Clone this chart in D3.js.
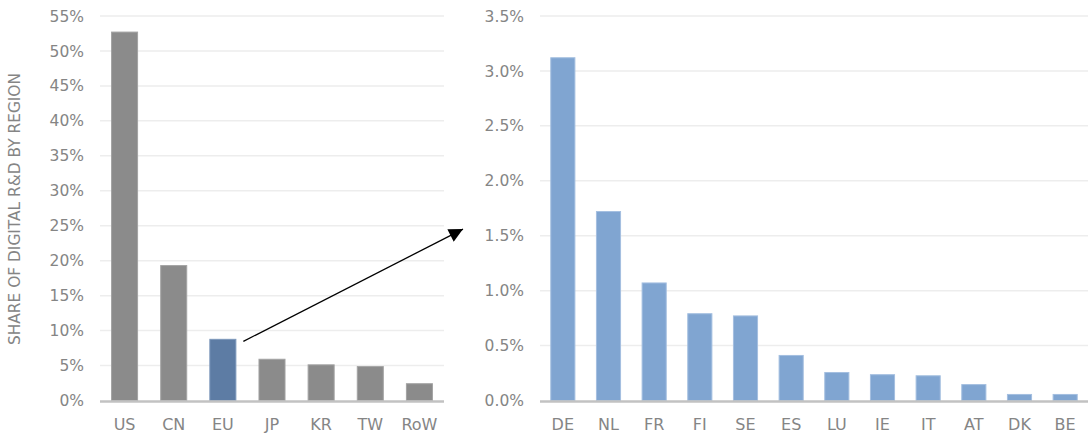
<!DOCTYPE html>
<html>
<head>
<meta charset="utf-8">
<script src="https://cdn.jsdelivr.net/npm/d3@7"></script>
<style>
  body { margin: 0; background: #fff; }
  text { font-family: "DejaVu Sans", sans-serif; fill: #858585; }
</style>
</head>
<body>
<svg id="chart" width="1088" height="434"></svg>
<script>
const regions = ['US', 'CN', 'EU', 'JP', 'KR', 'TW', 'RoW']
const regionShare = [52.7, 19.3, 8.75, 5.9, 5.1, 4.85, 2.4]
const regionTicks = [0, 5, 10, 15, 20, 25, 30, 35, 40, 45, 50, 55]

const countries = ['DE', 'NL', 'FR', 'FI', 'SE', 'ES', 'LU', 'IE', 'IT', 'AT', 'DK', 'BE']
const countryShare = [3.12, 1.72, 1.07, 0.79, 0.77, 0.41, 0.255, 0.235, 0.225, 0.145, 0.055, 0.055]
const countryTicks = [0, 0.5, 1.0, 1.5, 2.0, 2.5, 3.0, 3.5]

const svg = d3.select('#chart')
const plotTop = 16, plotBottom = 400.5

// arrow head
svg.append('defs').append('marker')
  .attr('id', 'head')
  .attr('viewBox', '0 0 10 10')
  .attr('refX', 10).attr('refY', 5)
  .attr('markerWidth', 15).attr('markerHeight', 14)
  .attr('markerUnits', 'userSpaceOnUse')
  .attr('orient', 'auto')
  .append('path')
  .attr('d', 'M0,0 L10,5 L0,10 Z')
  .attr('fill', '#000')

const left = drawPanel({
  cats: regions, vals: regionShare, ticks: regionTicks,
  x0: 100, x1: 444, max: 55, fmt: d => d + '%',
  color: (d) => d === 'EU' ? '#5d7ca4' : '#8b8b8b',
  stroke: (d) => d === 'EU' ? '#7d98bb' : '#a3a3a3'
})

const right = drawPanel({
  cats: countries, vals: countryShare, ticks: countryTicks,
  x0: 540, x1: 1088, max: 3.5, fmt: d => d.toFixed(1) + '%',
  color: () => '#80a5d1',
  stroke: () => '#a4bfe0'
})

// y title
svg.append('text')
  .attr('transform', `translate(20,209) rotate(-90)`)
  .attr('text-anchor', 'middle')
  .attr('textLength', 272)
  .attr('lengthAdjust', 'spacingAndGlyphs')
  .style('font-size', '16.5px')
  .text('SHARE OF DIGITAL R&D BY REGION')

// arrow from EU bar to the right panel
const euX = left.x('EU') + left.x.bandwidth() + 7
const euY = left.y(regionShare[regions.indexOf('EU')]) + 2
svg.append('line')
  .attr('x1', euX).attr('y1', euY)
  .attr('x2', right.x.range()[0] - 77).attr('y2', right.y(1.56))
  .attr('stroke', '#000')
  .attr('stroke-width', 1.3)
  .attr('marker-end', 'url(#head)')


//helpers

function drawPanel(o) {
  const x = d3.scaleBand()
    .domain(o.cats)
    .range([o.x0, o.x1])
    .paddingInner(0.45)
    .paddingOuter(0.225)

  const y = d3.scaleLinear()
    .domain([0, o.max])
    .range([plotBottom, plotTop])

  const g = svg.append('g')

  g.selectAll('.grid')
    .data(o.ticks.slice(1))
    .enter()
    .append('line')
    .attr('x1', o.x0).attr('x2', o.x1)
    .attr('y1', d => y(d)).attr('y2', d => y(d))
    .attr('stroke', '#ededed')
    .attr('stroke-width', 1.5)

  g.selectAll('.tick')
    .data(o.ticks)
    .enter()
    .append('text')
    .attr('x', o.x0 - 16)
    .attr('y', d => y(d))
    .attr('dy', '0.36em')
    .attr('text-anchor', 'end')
    .style('font-size', '15.5px')
    .text(o.fmt)

  g.selectAll('rect')
    .data(o.cats)
    .enter()
    .append('rect')
    .attr('x', d => x(d) + 0.5)
    .attr('y', (d, i) => y(o.vals[i]))
    .attr('width', x.bandwidth() - 1)
    .attr('height', (d, i) => y(0) - y(o.vals[i]))
    .attr('fill', o.color)
    .attr('stroke', o.stroke)
    .attr('stroke-width', 1)

  g.append('line')
    .attr('x1', o.x0).attr('x2', o.x1)
    .attr('y1', y(0) + 1).attr('y2', y(0) + 1)
    .attr('stroke', '#c2c2c2')
    .attr('stroke-width', 2.5)

  g.selectAll('.cat')
    .data(o.cats)
    .enter()
    .append('text')
    .attr('x', d => x(d) + x.bandwidth() / 2)
    .attr('y', 424)
    .attr('dy', '0.36em')
    .attr('text-anchor', 'middle')
    .style('font-size', '16px')
    .text(d => d)

  return { x, y }
}
</script>
</body>
</html>
